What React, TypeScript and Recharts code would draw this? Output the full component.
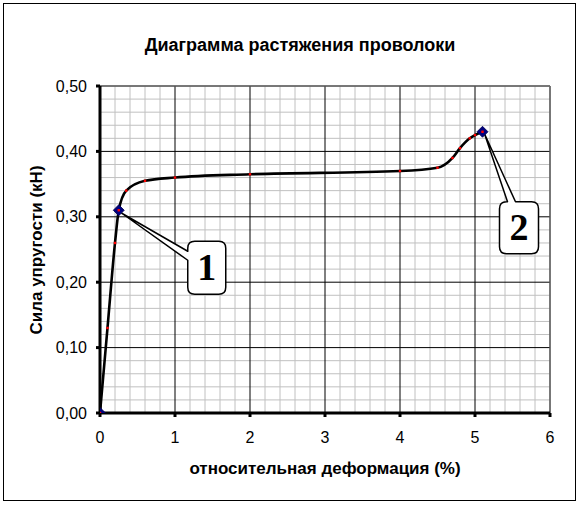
import React from 'react';
import { ComposedChart, Line, Scatter, XAxis, YAxis, CartesianGrid } from 'recharts';

// Measured curve: relative strain (%) vs elastic force (kN)
const strainPct = [0, 0.1, 0.2, 0.25, 0.35, 0.6, 1.0, 2.0, 4.0, 4.5, 4.7, 4.8, 4.93, 5.0, 5.1];
const forceKN = [0, 0.13, 0.26, 0.31, 0.34, 0.355, 0.36, 0.365, 0.37, 0.375, 0.39, 0.405, 0.42, 0.425, 0.43];

// Highlighted points (blue diamonds) and their callout labels
const markedStrain = [0, 0.25, 5.1];
const markedForce = [0, 0.31, 0.43];
const markedLabels = ['', '1', '2'];

// Axis ticks
const xTicks = [0, 1, 2, 3, 4, 5, 6];
const yTicks = [0, 0.1, 0.2, 0.3, 0.4, 0.5];

// Grid lines
const minorX = [0.2, 0.4, 0.6, 0.8, 1.2, 1.4, 1.6, 1.8, 2.2, 2.4, 2.6, 2.8, 3.2, 3.4, 3.6, 3.8, 4.2, 4.4, 4.6, 4.8, 5.2, 5.4, 5.6, 5.8];
const minorY = [0.02, 0.04, 0.06, 0.08, 0.12, 0.14, 0.16, 0.18, 0.22, 0.24, 0.26, 0.28, 0.32, 0.34, 0.36, 0.38, 0.42, 0.44, 0.46, 0.48];
const majorX = [1, 2, 3, 4, 5];
const majorY = [0.1, 0.2, 0.3, 0.4];
const borderX = [6];
const borderY = [0.5];

const curveData = strainPct.map((x, i) => ({ x, y: forceKN[i] }));
const markedData = markedStrain.map((x, i) => ({ x, y: markedForce[i], label: markedLabels[i] }));

const fmt = (v: number) => v.toFixed(2).replace('.', ',');

const FONT = '"Liberation Sans", Arial, sans-serif';

function Callout({ cx, cy, label }: { cx: number; cy: number; label: string }) {
  const r = 7;
  let d = '';
  let x0 = 0, x1 = 0, y0 = 0, y1 = 0;
  if (label === '1') {
    x0 = cx + 69; x1 = cx + 107; y0 = cy + 31; y1 = cy + 84;
    const b1 = cy + 41, b2 = cy + 50;
    const tx = cx + 3, ty = cy + 3;
    d = `M${x0 + r},${y0} L${x1 - r},${y0} Q${x1},${y0} ${x1},${y0 + r} L${x1},${y1 - r} Q${x1},${y1} ${x1 - r},${y1} L${x0 + r},${y1} Q${x0},${y1} ${x0},${y1 - r} L${x0},${b2} L${tx},${ty} L${x0},${b1} L${x0},${y0 + r} Q${x0},${y0} ${x0 + r},${y0} Z`;
  } else {
    x0 = cx + 17; x1 = cx + 56; y0 = cy + 70; y1 = cy + 122;
    const b1 = cx + 25, b2 = cx + 33;
    const tx = cx + 2, ty = cy + 2;
    d = `M${x0},${y0 + r} Q${x0},${y0} ${x0 + r},${y0} L${b1},${y0} L${tx},${ty} L${b2},${y0} L${x1 - r},${y0} Q${x1},${y0} ${x1},${y0 + r} L${x1},${y1 - r} Q${x1},${y1} ${x1 - r},${y1} L${x0 + r},${y1} Q${x0},${y1} ${x0},${y1 - r} Z`;
  }
  return (
    <g>
      <path d={d} fill="#ffffff" stroke="#000000" strokeWidth={1.5} strokeLinejoin="round" />
      <text
        x={(x0 + x1) / 2}
        y={y0 + 38.5}
        textAnchor="middle"
        fontFamily='"Liberation Serif", "Times New Roman", serif'
        fontWeight="bold"
        fontSize={38}
        fill="#000000"
      >
        {label}
      </text>
    </g>
  );
}

const MarkedShape = (props: any) => {
  const { cx, cy, payload } = props;
  if (cx == null || cy == null) return null;
  const h = 5.5;
  return (
    <g>
      {payload?.label ? <Callout cx={cx} cy={cy} label={payload.label} /> : null}
      <polygon
        points={`${cx},${cy - h} ${cx + h},${cy} ${cx},${cy + h} ${cx - h},${cy}`}
        fill="#000080"
        stroke="#00004a"
        strokeWidth={0.8}
      />
      <rect x={cx - 1.2} y={cy - 1.2} width={2.4} height={2.4} fill="#ff0000" />
    </g>
  );
};

const RedDot = (props: any) => {
  const { cx, cy } = props;
  if (cx == null || cy == null) return null;
  return <rect x={cx - 1.2} y={cy - 1.2} width={2.4} height={2.4} fill="#ff0000" />;
};

const hiddenX = (id: string, ticks: number[]) => (
  <XAxis key={id} xAxisId={id} dataKey="x" type="number" domain={[0, 6]} ticks={ticks} interval={0} hide allowDataOverflow />
);
const hiddenY = (id: string, ticks: number[]) => (
  <YAxis key={id} yAxisId={id} dataKey="y" type="number" domain={[0, 0.5]} ticks={ticks} interval={0} hide allowDataOverflow />
);

export default function App() {
  return (
    <div style={{ position: 'absolute', left: 0, top: 0, width: 583, height: 505, background: '#ffffff' }}>
      <div
        style={{
          position: 'absolute',
          left: 3,
          top: 3,
          width: 571,
          height: 496,
          border: '1px solid #000000',
        }}
      />
      <ComposedChart
        width={583}
        height={505}
        data={curveData}
        margin={{ top: 86, right: 33, bottom: 62, left: 40 }}
        style={{ position: 'absolute', left: 0, top: 0 }}
      >
        {hiddenX('minorX', minorX)}
        {hiddenY('minorY', minorY)}
        {hiddenX('majorX', majorX)}
        {hiddenY('majorY', majorY)}
        {hiddenX('borderX', borderX)}
        {hiddenY('borderY', borderY)}
        <CartesianGrid xAxisId="minorX" yAxisId="minorY" stroke="#c0c0c0" strokeWidth={1} />
        <CartesianGrid xAxisId="majorX" yAxisId="majorY" stroke="#000000" strokeWidth={1} />
        <CartesianGrid xAxisId="borderX" yAxisId="borderY" stroke="#808080" strokeWidth={1} />
        <XAxis
          dataKey="x"
          type="number"
          domain={[0, 6]}
          ticks={xTicks}
          interval={0}
          height={30}
          allowDataOverflow
          axisLine={{ stroke: '#000000', strokeWidth: 3 }}
          tickLine={{ stroke: '#000000', strokeWidth: 3 }}
          tickSize={4}
          tickMargin={15}
          tick={{ fill: '#000000', fontSize: 16, fontFamily: FONT }}
        />
        <YAxis
          dataKey="y"
          type="number"
          domain={[0, 0.5]}
          ticks={yTicks}
          interval={0}
          width={60}
          allowDataOverflow
          tickFormatter={fmt}
          axisLine={{ stroke: '#000000', strokeWidth: 3 }}
          tickLine={{ stroke: '#000000', strokeWidth: 3 }}
          tickSize={4}
          tickMargin={9}
          tick={{ fill: '#000000', fontSize: 16, fontFamily: FONT }}
        />
        <Line
          dataKey="y"
          type="monotone"
          stroke="#000000"
          strokeWidth={2.6}
          dot={false}
          activeDot={false}
          isAnimationActive={false}
        />
        <Scatter data={curveData} dataKey="y" shape={RedDot} isAnimationActive={false} />
        <Scatter data={markedData} dataKey="y" shape={MarkedShape} isAnimationActive={false} />
      </ComposedChart>
      <div
        style={{
          position: 'absolute',
          left: 0,
          width: 600,
          top: 34,
          textAlign: 'center',
          fontFamily: FONT,
          fontWeight: 'bold',
          fontSize: 18,
          lineHeight: '22px',
          color: '#000000',
          whiteSpace: 'nowrap',
        }}
      >
        Диаграмма растяжения проволоки
      </div>
      <div
        style={{
          position: 'absolute',
          left: 125,
          width: 400,
          top: 458,
          textAlign: 'center',
          fontFamily: FONT,
          fontWeight: 'bold',
          fontSize: 17,
          lineHeight: '22px',
          color: '#000000',
          whiteSpace: 'nowrap',
        }}
      >
        относительная деформация (%)
      </div>
      <div
        style={{
          position: 'absolute',
          left: 37 - 150,
          top: 250 - 11,
          width: 300,
          height: 22,
          textAlign: 'center',
          fontFamily: FONT,
          fontWeight: 'bold',
          fontSize: 17,
          lineHeight: '22px',
          color: '#000000',
          whiteSpace: 'nowrap',
          transform: 'rotate(-90deg)',
          transformOrigin: '50% 50%',
        }}
      >
        Сила упругости (кН)
      </div>
    </div>
  );
}
